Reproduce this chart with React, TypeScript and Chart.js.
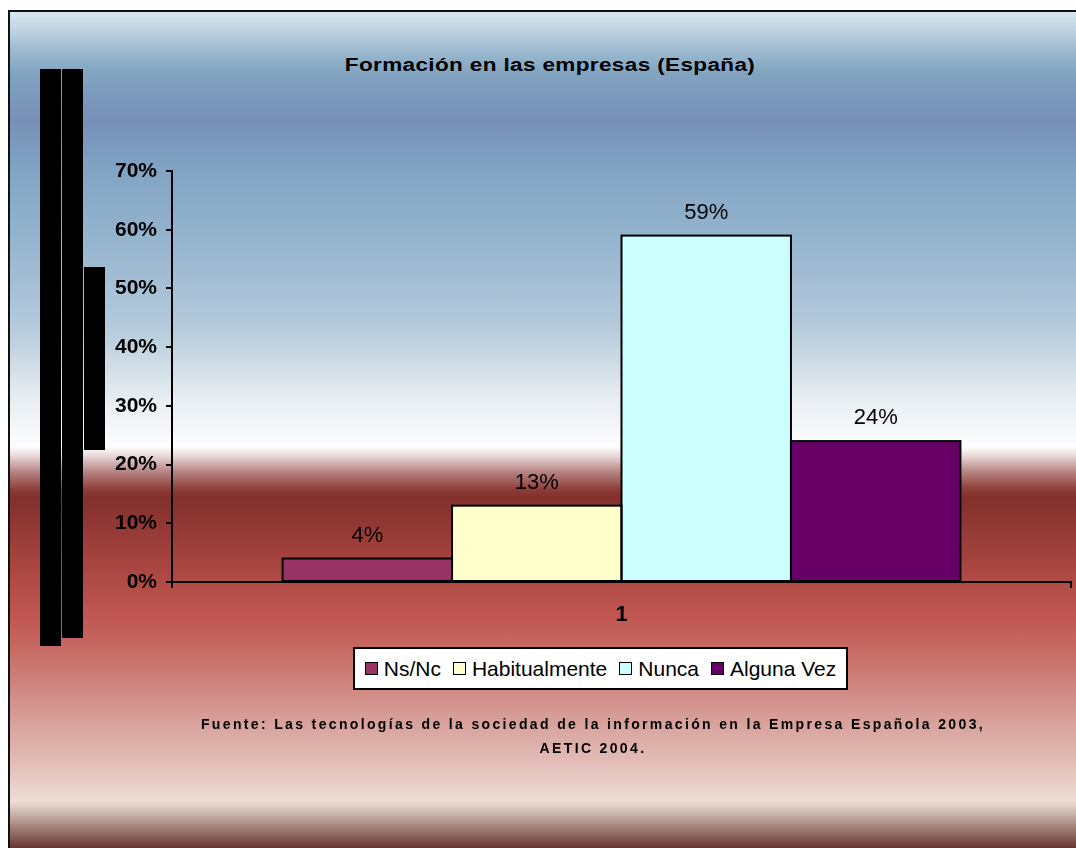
import { useEffect, useRef } from "react";
import { Chart, registerables } from "chart.js";

Chart.register(...registerables);

// ---- data ----
const categories = ["1"];
const seriesNames = ["Ns/Nc", "Habitualmente", "Nunca", "Alguna Vez"];
const nsNcValues = [4];
const habitualmenteValues = [13];
const nuncaValues = [59];
const algunaVezValues = [24];
const seriesColors = ["#993366", "#ffffcc", "#ccffff", "#660066"];
const yMin = 0;
const yMax = 70;
const yStep = 10;

const chartTitle = "Formación en las empresas (España)";
const sourceLines = [
  "Fuente: Las tecnologías de la sociedad de la información en la Empresa Española 2003,",
  "AETIC 2004.",
];

const FONT = '"Liberation Sans", Arial, sans-serif';

// Background bands of the frame, as [page y, colour]
const bgStops: [number, string][] = [
  [12, "#d9e7ef"],
  [30, "#c0d3e2"],
  [50, "#9dbad0"],
  [72, "#82a5c1"],
  [100, "#7b97bc"],
  [122, "#7790b8"],
  [170, "#80a4c3"],
  [260, "#9cb9d1"],
  [330, "#b6cbdc"],
  [400, "#e8eef2"],
  [447, "#fdfdfe"],
  [455, "#ecdcdc"],
  [472, "#b58382"],
  [490, "#8d3b37"],
  [498, "#822f2c"],
  [540, "#9a3d39"],
  [580, "#b04a45"],
  [620, "#c15853"],
  [660, "#c9716b"],
  [710, "#d59893"],
  [760, "#e2bbb5"],
  [801, "#ecddd5"],
  [806, "#e0cfc7"],
  [825, "#a98a83"],
  [848, "#683530"],
];

const gradientCss =
  "linear-gradient(to bottom, " +
  bgStops.map(([y, c]) => `${c} ${y - 12}px`).join(", ") +
  ")";

// Outline every bar with a 2px stroke centred on its edges, so
// neighbouring bars share a single line.
const barOutline = {
  id: "barOutline",
  afterDatasetsDraw(chart: any) {
    const { ctx } = chart;
    ctx.save();
    ctx.lineWidth = 2;
    ctx.strokeStyle = "#000";
    chart.data.datasets.forEach((_: any, i: number) => {
      const meta = chart.getDatasetMeta(i);
      meta.data.forEach((el: any) => {
        const { x, y, base, width } = el.getProps(["x", "y", "base", "width"], true);
        ctx.strokeRect(x - width / 2, y, width, base - y);
      });
    });
    ctx.restore();
  },
};

// Percentage written above each bar
const valueLabels = {
  id: "valueLabels",
  afterDatasetsDraw(chart: any) {
    const { ctx } = chart;
    ctx.save();
    ctx.font = `22px ${FONT}`;
    ctx.fillStyle = "#000";
    ctx.textAlign = "center";
    ctx.textBaseline = "alphabetic";
    chart.data.datasets.forEach((ds: any, i: number) => {
      const meta = chart.getDatasetMeta(i);
      meta.data.forEach((el: any, j: number) => {
        const { x, y } = el.getProps(["x", "y"], true);
        ctx.fillText(`${ds.data[j]}%`, x, y - 17);
      });
    });
    ctx.restore();
  },
};

const seriesValues = [nsNcValues, habitualmenteValues, nuncaValues, algunaVezValues];

export default function App() {
  const canvasRef = useRef<HTMLCanvasElement | null>(null);

  useEffect(() => {
    if (!canvasRef.current) return;
    const chart = new Chart(canvasRef.current, {
      type: "bar",
      data: {
        labels: categories,
        datasets: seriesNames.map((name, i) => ({
          label: name,
          data: seriesValues[i],
          backgroundColor: seriesColors[i],
          borderWidth: 0,
          categoryPercentage: 0.754,
          barPercentage: 1,
        })),
      },
      options: {
        responsive: false,
        animation: false,
        devicePixelRatio: 1,
        layout: { padding: { left: 108, right: 5, top: 171, bottom: 216 } },
        plugins: {
          legend: { display: false },
          title: { display: false },
          tooltip: { enabled: false },
        },
        scales: {
          x: {
            offset: true,
            afterFit: (scale: any) => {
              scale.height = 50;
            },
            grid: {
              display: true,
              offset: true,
              drawOnChartArea: false,
              drawTicks: true,
              tickLength: 6,
              color: "#000",
              lineWidth: 2,
            },
            border: { display: true, color: "#000", width: 2 },
            ticks: {
              color: "#000",
              font: { family: FONT, size: 22, weight: "bold" },
              padding: 14,
            },
          },
          y: {
            min: yMin,
            max: yMax,
            afterFit: (scale: any) => {
              scale.width = 64;
            },
            grid: {
              display: true,
              drawOnChartArea: false,
              drawTicks: true,
              tickLength: 6,
              color: "#000",
              lineWidth: 2,
            },
            border: { display: true, color: "#000", width: 2 },
            ticks: {
              stepSize: yStep,
              color: "#000",
              padding: 9,
              font: { family: FONT, size: 21, weight: "bold" },
              callback: (v: any) => `${v}%`,
            },
          },
        },
      },
      plugins: [barOutline, valueLabels],
    });
    return () => chart.destroy();
  }, []);

  return (
    <div
      style={{
        position: "fixed",
        left: 0,
        top: 0,
        width: 1076,
        height: 848,
        overflow: "hidden",
        background: "#fff",
        fontFamily: FONT,
      }}
    >
      <div
        style={{
          position: "absolute",
          left: 8,
          top: 10,
          right: 0,
          bottom: 0,
          borderTop: "2px solid #111",
          borderLeft: "2px solid #111",
          backgroundImage: gradientCss,
        }}
      />
      {/* solid black blocks along the left side */}
      <div style={{ position: "absolute", left: 40, top: 69, width: 21, height: 577, background: "#000" }} />
      <div style={{ position: "absolute", left: 62, top: 69, width: 21, height: 569, background: "#000" }} />
      <div style={{ position: "absolute", left: 84, top: 267, width: 21, height: 183, background: "#000" }} />

      <div
        style={{
          position: "absolute",
          left: 0,
          top: 56,
          width: 1100,
          textAlign: "center",
          fontWeight: "bold",
          fontSize: 18,
          lineHeight: 1,
          letterSpacing: "0.3px",
          color: "#000",
          whiteSpace: "nowrap",
          transform: "scaleX(1.25)",
          transformOrigin: "550px 0",
        }}
      >
        {chartTitle}
      </div>

      <canvas
        ref={canvasRef}
        width={1076}
        height={848}
        style={{ position: "absolute", left: 0, top: 0, width: 1076, height: 848 }}
      />

      {/* legend */}
      <div
        style={{
          position: "absolute",
          left: 353,
          top: 647,
          width: 495,
          height: 43,
          boxSizing: "border-box",
          border: "2px solid #000",
          background: "#fff",
          display: "flex",
          alignItems: "center",
          justifyContent: "center",
          fontSize: 21,
          color: "#000",
          whiteSpace: "nowrap",
        }}
      >
        {seriesNames.map((name, i) => (
          <div key={name} style={{ display: "flex", alignItems: "center", margin: "0 6px" }}>
            <span
              style={{
                display: "inline-block",
                width: 13,
                height: 13,
                boxSizing: "border-box",
                border: "1.5px solid #000",
                background: seriesColors[i],
                marginRight: 6,
              }}
            />
            <span>{name}</span>
          </div>
        ))}
      </div>

      <div
        style={{
          position: "absolute",
          left: 93,
          top: 712,
          width: 1000,
          textAlign: "center",
          fontWeight: "bold",
          fontSize: 14,
          lineHeight: "24px",
          letterSpacing: "2.35px",
          color: "#000",
        }}
      >
        {sourceLines.map((line) => (
          <div key={line}>{line}</div>
        ))}
      </div>
    </div>
  );
}
